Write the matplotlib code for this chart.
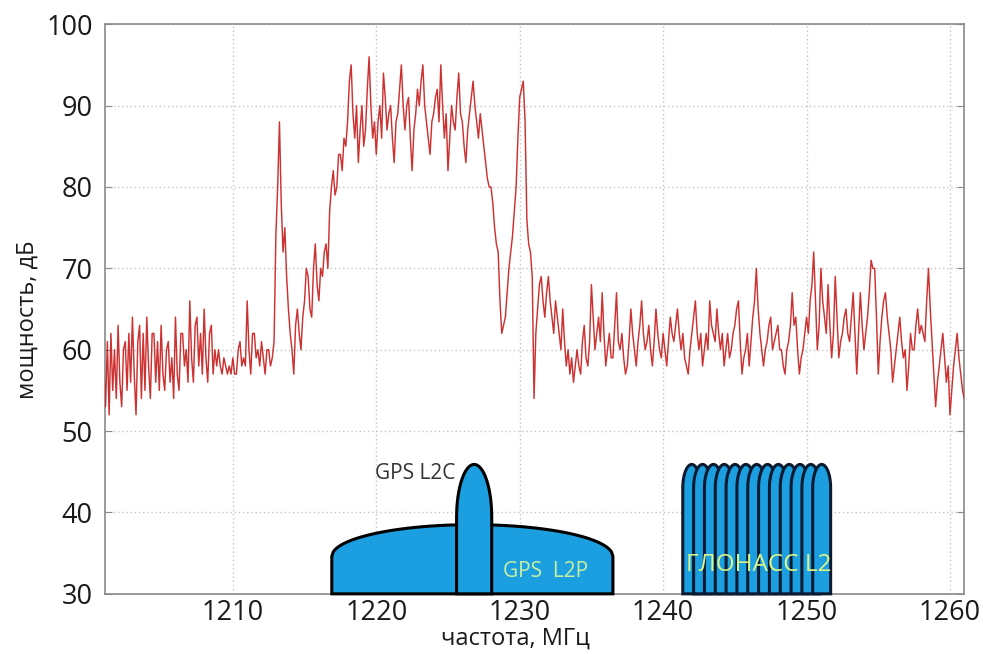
import numpy as np
import matplotlib
matplotlib.use("Agg")
import matplotlib.pyplot as plt

# ---------------- data ----------------
freq_start, freq_step = 1201.0, 0.125
power_db = [
    58, 53, 61, 52, 62, 55, 60, 54,   # 1201
    63, 56, 53, 60, 61, 55, 62, 56,   # 1202
    64, 57, 52, 61, 63, 54, 62, 55,   # 1203
    64, 58, 54, 62, 62, 56, 61, 55,   # 1204
    63, 57, 55, 60, 61, 56, 59, 54,   # 1205
    64, 57, 55, 62, 62, 58, 60, 56,   # 1206
    66, 59, 56, 63, 64, 58, 62, 57,   # 1207
    65, 59, 56, 62, 63, 57, 60, 58,   # 1208
    60, 58, 57, 59, 58, 57, 58, 57,   # 1209
    59, 57, 57, 60, 61, 58, 59, 58,   # 1210
    66, 60, 57, 62, 62, 59, 60, 58,   # 1211
    61, 59, 57, 60, 60, 58, 59, 61,   # 1212
    74, 80, 88, 78, 72, 75, 69, 65,   # 1213
    62, 60, 57, 63, 65, 62, 60, 64,   # 1214
    66, 70, 69, 65, 64, 70, 73, 68,   # 1215
    66, 70, 69, 72, 73, 70, 77, 80,   # 1216
    82, 79, 80, 84, 84, 82, 86, 85,   # 1217
    88, 93, 95, 89, 86, 90, 83, 87,   # 1218
    90, 85, 87, 92, 96, 90, 86, 88,   # 1219
    84, 88, 90, 86, 94, 91, 87, 89,   # 1220
    90, 86, 83, 88, 89, 92, 95, 90,   # 1221
    87, 90, 91, 86, 82, 87, 89, 92,   # 1222
    90, 93, 95, 90, 88, 86, 84, 88,   # 1223
    89, 91, 92, 88, 95, 90, 86, 89,   # 1224
    82, 86, 90, 88, 87, 91, 94, 89,   # 1225
    88, 85, 83, 87, 89, 91, 93, 90,   # 1226
    88, 86, 89, 87, 85, 83, 81, 80,   # 1227
    80, 78, 75, 73, 72, 66, 62, 63,   # 1228
    64, 67, 70, 72, 74, 77, 80, 86,   # 1229
    91, 92, 93, 88, 76, 73, 72, 69,   # 1230
    54, 62, 65, 68, 69, 66, 64, 67,   # 1231
    69, 66, 64, 62, 66, 64, 62, 60,   # 1232
    65, 61, 58, 60, 57, 59, 56, 58,   # 1233
    60, 58, 57, 61, 63, 59, 58, 61,   # 1234
    68, 64, 60, 62, 64, 61, 67, 62,   # 1235
    58, 60, 62, 59, 59, 63, 67, 61,   # 1236
    60, 62, 59, 57, 58, 61, 65, 62,   # 1237
    60, 58, 61, 63, 66, 62, 60, 61,   # 1238
    63, 60, 58, 61, 65, 62, 60, 59,   # 1239
    62, 60, 58, 61, 64, 62, 61, 63,   # 1240
    65, 62, 60, 62, 59, 58, 57, 60,   # 1241
    62, 64, 66, 62, 60, 62, 58, 60,   # 1242
    62, 60, 66, 63, 62, 61, 65, 62,   # 1243
    60, 62, 58, 60, 62, 59, 60, 62,   # 1244
    63, 65, 66, 61, 57, 59, 60, 62,   # 1245
    58, 61, 64, 66, 70, 65, 62, 60,   # 1246
    58, 60, 61, 63, 64, 60, 61, 62,   # 1247
    63, 60, 60, 58, 57, 60, 61, 63,   # 1248
    67, 63, 64, 60, 57, 59, 60, 62,   # 1249
    64, 62, 66, 68, 72, 66, 60, 63,   # 1250
    70, 66, 64, 62, 68, 63, 59, 62,   # 1251
    69, 64, 59, 61, 62, 64, 65, 62,   # 1252
    61, 64, 67, 62, 57, 62, 67, 63,   # 1253
    60, 62, 64, 67, 71, 70, 70, 64,   # 1254
    57, 61, 64, 66, 67, 64, 62, 60,   # 1255
    56, 58, 60, 62, 64, 61, 59, 60,   # 1256
    55, 58, 62, 60, 60, 63, 65, 62,   # 1257
    63, 62, 61, 66, 70, 65, 61, 57,   # 1258
    53, 56, 58, 60, 62, 59, 56, 58,   # 1259
    52, 55, 58, 60, 62, 59, 57, 55,   # 1260
    54,                               # 1261
]
freq = freq_start + freq_step * np.arange(len(power_db))

x_ticks = [1210, 1220, 1230, 1240, 1250, 1260]
y_ticks = [30, 40, 50, 60, 70, 80, 90, 100]

# signal bands (MHz edges, dB levels)
l2p_band = (1216.9, 1236.5)
l2p_levels = (34.6, 38.5)
l2c_band = (1225.6, 1228.05)
l2c_levels = (39.4, 45.9)
glonass_first_edge = 1241.37
glonass_spacing = 0.755
glonass_width = 1.25
glonass_count = 13
glonass_levels = (43.0, 45.9)
floor_db = 30

txt_font = ['Open Sans', 'DejaVu Sans']

fig = plt.figure(figsize=(9.83, 6.54), dpi=100)
ax = fig.add_axes([0.107, 0.092, 0.874, 0.871])

ax.plot(freq, power_db, color='#c81c1c', lw=1.05, alpha=0.9, zorder=3)


def dome(left, right, base, top, n=200):
    c = (left + right) / 2
    h = (right - left) / 2
    t = np.linspace(-1, 1, n)
    xs = c + h * t
    ys = base + (top - base) * np.sqrt(np.clip(1 - t ** 2, 0, 1))
    X = np.concatenate([[left], xs, [right]])
    Y = np.concatenate([[floor_db], ys, [floor_db]])
    return X, Y


blue = '#1c9fe0'
X, Y = dome(*l2p_band, *l2p_levels)
ax.fill(X, Y, facecolor=blue, edgecolor='black', lw=2.2, zorder=4, clip_on=False)
X, Y = dome(*l2c_band, *l2c_levels)
ax.fill(X, Y, facecolor=blue, edgecolor='black', lw=2.2, zorder=5, clip_on=False)
for k in range(glonass_count):
    left = glonass_first_edge + k * glonass_spacing
    X, Y = dome(left, left + glonass_width, *glonass_levels)
    ax.fill(X, Y, facecolor=blue, edgecolor='#0a1a30', lw=2.2, zorder=6 + k, clip_on=False)

ax.text(1225.5, 44.8, 'GPS L2C', ha='right', va='center', fontsize=15,
        family=txt_font, color='#333333', zorder=30)
ax.text(1231.8, 32.8, 'GPS  L2P', ha='center', va='center', fontsize=15,
        family=txt_font, color='#c9f0a0', zorder=30)
ax.text(1246.7, 33.6, 'ГЛОНАСС L2', ha='center', va='center', fontsize=17.5,
        family=txt_font, color='#daf58a', zorder=40)

ax.set_xlim(1201.1, 1261.0)
ax.set_ylim(30, 100)
ax.set_xticks(x_ticks)
ax.set_yticks(y_ticks)
ax.grid(True, color='#c4c4c4', linestyle=(0, (1, 2)), lw=1.0, zorder=0)
ax.set_axisbelow(True)
for s in ax.spines.values():
    s.set_color('#8a8a8a')
    s.set_linewidth(1.2)
ax.tick_params(axis='both', direction='in', length=5, color='#8a8a8a',
               labelsize=19.5, labelcolor='#1a1a1a', right=True)
ax.tick_params(axis='x', pad=4, length=0)
ax.tick_params(axis='y', pad=9)
for lab in ax.get_xticklabels() + ax.get_yticklabels():
    lab.set_family(txt_font)

ax.set_xlabel('частота, МГц', fontsize=17, family=txt_font, color='#1a1a1a')
ax.set_ylabel('мощность, дБ', fontsize=17, family=txt_font, color='#1a1a1a')
ax.xaxis.set_label_coords(0.478, -0.079)
ax.yaxis.set_label_coords(-0.09, 0.482)
ax.xaxis.label.set_va('center')
ax.yaxis.label.set_va('center')

fig.savefig('out.png', dpi=100)
